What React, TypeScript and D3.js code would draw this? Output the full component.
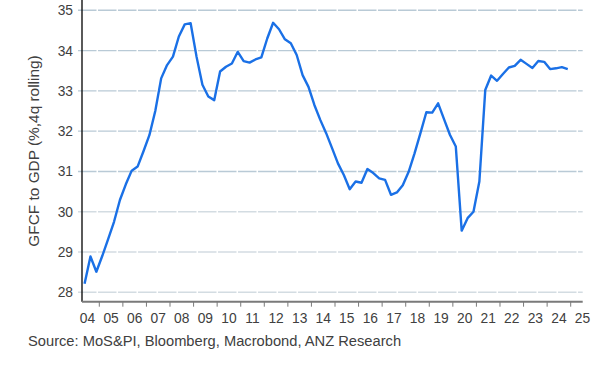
import React from "react";
import * as d3 from "d3";

const startYear = 2004.375;
const gfcfValues: number[] = [
  28.21, 28.89, 28.51, 28.9, 29.32, 29.75, 30.29, 30.68, 31.02, 31.12,
  31.5, 31.9, 32.5, 33.31, 33.64, 33.85, 34.35, 34.65, 34.68, 33.85,
  33.15, 32.86, 32.77, 33.48, 33.6, 33.68, 33.97, 33.74, 33.7, 33.78,
  33.83, 34.3, 34.69, 34.53, 34.28, 34.18, 33.89, 33.39, 33.1, 32.65,
  32.28, 31.95, 31.58, 31.2, 30.91, 30.56, 30.75, 30.72, 31.06, 30.96,
  30.83, 30.79, 30.42, 30.48, 30.66, 30.99, 31.45, 31.95, 32.47, 32.46,
  32.69, 32.3, 31.91, 31.62, 29.53, 29.84, 30.0, 30.75, 33.02, 33.38,
  33.25, 33.42, 33.58, 33.62, 33.77, 33.67, 33.57, 33.74, 33.72, 33.54,
  33.56, 33.59, 33.54,
];
const yTicks: number[] = [28, 29, 30, 31, 32, 33, 34, 35];
const tickYears: number[] = d3.range(2005, 2026);
const yearLabels: string[] = [
  "04", "05", "06", "07", "08", "09", "10", "11", "12", "13", "14",
  "15", "16", "17", "18", "19", "20", "21", "22", "23", "24", "25",
];
const yTitle = "GFCF to GDP (%,4q rolling)";
const sourceText = "Source: MoS&PI, Bloomberg, Macrobond, ANZ Research";

export default function App() {
  const W = 616;
  const H = 388;
  const axisLeft = 82;
  const axisRight = 582.7;
  const axisBottom = 301.7;

  const x = d3.scaleLinear().domain([2004, 2025]).range([75.73, 75.73 + 21 * 23.57]);
  const y = d3.scaleLinear().domain([28, 35]).range([292.3, 10.3]);

  const pts: [number, number][] = gfcfValues.map((v, i) => [startYear + i * 0.25, v]);
  const line = d3
    .line<[number, number]>()
    .x((d) => x(d[0]))
    .y((d) => y(d[1]));

  const font = "'Liberation Sans', Arial, sans-serif";
  const textColor = "#404040";

  return (
    <svg
      width={W}
      height={H}
      style={{ position: "absolute", left: 0, top: 0, background: "#fff" }}
      fontFamily={font}
    >
      {yTicks.map((t) => (
        <line
          key={"g" + t}
          x1={78}
          x2={axisRight}
          y1={y(t)}
          y2={y(t)}
          stroke={t >= 31 ? "#b9cad6" : "#d3dce2"}
          strokeWidth={1.4}
          strokeDasharray="18.5,1.5"
        />
      ))}
      {yTicks.map((t) => (
        <text
          key={"yl" + t}
          x={73}
          y={y(t)}
          dy="0.36em"
          textAnchor="end"
          fontSize={13.8}
          fill={textColor}
        >
          {t}
        </text>
      ))}
      <text
        transform={`translate(39,${151}) rotate(-90)`}
        textAnchor="middle"
        fontSize={15.4}
        fill={textColor}
      >
        {yTitle}
      </text>
      <path d={line(pts) || ""} fill="none" stroke="#1a70e6" strokeWidth={2.4} strokeLinejoin="round" />
      <line x1={axisLeft} x2={axisLeft} y1={0} y2={axisBottom} stroke="#000" strokeWidth={1.3} />
      <line x1={axisLeft} x2={axisRight} y1={axisBottom} y2={axisBottom} stroke="#7a7a7a" strokeWidth={2} />
      {tickYears.map((t) => (
        <line
          key={"xt" + t}
          x1={x(t)}
          x2={x(t)}
          y1={axisBottom}
          y2={axisBottom + 5}
          stroke="#7a7a7a"
          strokeWidth={1}
        />
      ))}
      {yearLabels.map((lab, i) => (
        <text
          key={"xl" + lab}
          x={x(2004.5 + i)}
          y={323}
          textAnchor="middle"
          fontSize={13.8}
          fill={textColor}
        >
          {lab}
        </text>
      ))}
      <text x={28} y={346} fontSize={14.7} fill={textColor}>
        {sourceText}
      </text>
    </svg>
  );
}
